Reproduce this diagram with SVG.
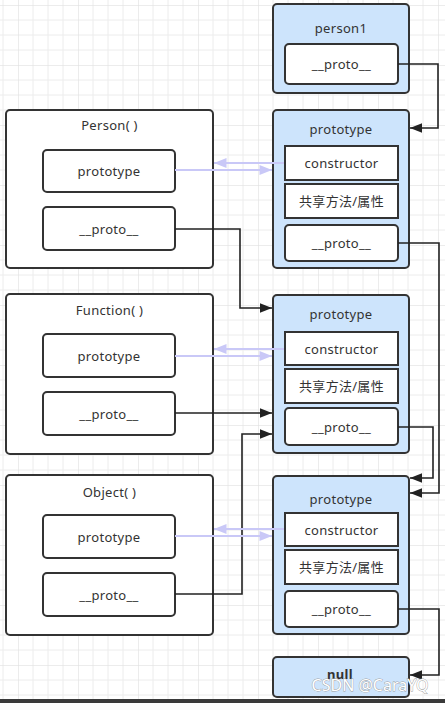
<svg xmlns="http://www.w3.org/2000/svg" width="445" height="703" viewBox="0 0 445 703">
<style>
text{font-family:"Noto Sans","Noto Sans CJK SC",sans-serif;font-size:13px;fill:#333;text-anchor:middle;dominant-baseline:central;letter-spacing:0.3px}
.outer{fill:#fff;stroke:#333;stroke-width:2}
.blue{fill:#cde4fc;stroke:#333;stroke-width:2}
.inner{fill:#fff;stroke:#333;stroke-width:2}
.conn{fill:none;stroke:#222;stroke-width:1.6}
.lav{fill:none;stroke:#c9c8f7;stroke-width:2}
</style>
<defs>
<pattern id="grid" x="18" y="5" width="60" height="60" patternUnits="userSpaceOnUse">
<path d="M0,0 V60 M15,0 V60 M30,0 V60 M45,0 V60 M0,0 H60 M0,15 H60 M0,30 H60 M0,45 H60" fill="none" stroke="#ececec" stroke-width="1"/>
<path d="M0,0 V60 M0,0 H60" fill="none" stroke="#e2e2e2" stroke-width="1"/>
</pattern>
<marker id="ab" viewBox="0 0 10 8" refX="10" refY="4" markerWidth="12" markerHeight="10" orient="auto" markerUnits="userSpaceOnUse"><path d="M0,0 L10,4 L0,8 z" fill="#222"/></marker>
<marker id="al" viewBox="0 0 10 8" refX="10" refY="4" markerWidth="13" markerHeight="10" orient="auto" markerUnits="userSpaceOnUse"><path d="M0,0 L10,4 L0,8 z" fill="#c9c8f7"/></marker>
</defs>
<rect width="445" height="703" fill="#fff"/>
<rect width="445" height="703" fill="url(#grid)"/>

<g id="person-ctor">
<rect class="outer" x="6" y="110" width="207" height="158" rx="4"/>
<text x="109.5" y="125">Person( )</text>
<rect class="inner" x="43" y="150" width="132" height="42" rx="4"/>
<text x="109" y="171">prototype</text>
<rect class="inner" x="43" y="207" width="132" height="43" rx="4"/>
<text x="109" y="228.5">__proto__</text>
</g>
<g id="function-ctor">
<rect class="outer" x="6" y="294" width="207" height="160" rx="4"/>
<text x="109.5" y="310">Function( )</text>
<rect class="inner" x="43" y="334" width="132" height="43" rx="4"/>
<text x="109" y="355.5">prototype</text>
<rect class="inner" x="43" y="392" width="132" height="43" rx="4"/>
<text x="109" y="413.5">__proto__</text>
</g>
<g id="object-ctor">
<rect class="outer" x="6" y="475" width="207" height="160" rx="4"/>
<text x="109.5" y="492">Object( )</text>
<rect class="inner" x="43" y="515" width="132" height="43" rx="4"/>
<text x="109" y="536.5">prototype</text>
<rect class="inner" x="43" y="573" width="132" height="43" rx="4"/>
<text x="109" y="594.5">__proto__</text>
</g>

<g id="person1">
<rect class="blue" x="273" y="4" width="136" height="89" rx="4"/>
<text x="341" y="27.5">person1</text>
<rect class="inner" x="285" y="44" width="113" height="40" rx="4"/>
<text x="341.5" y="64">__proto__</text>
</g>
<g id="person-prototype">
<rect class="blue" x="273" y="110" width="136" height="158" rx="4"/>
<text x="341" y="128.5">prototype</text>
<rect class="inner" x="285" y="146" width="113" height="34"/>
<text x="341.5" y="163">constructor</text>
<rect class="inner" x="285" y="184" width="113" height="34"/>
<text x="341.5" y="201">共享方法/属性</text>
<rect class="inner" x="285" y="225" width="113" height="36" rx="4"/>
<text x="341.5" y="243">__proto__</text>
</g>
<g id="function-prototype">
<rect class="blue" x="273" y="295" width="136" height="158" rx="4"/>
<text x="341" y="313.5">prototype</text>
<rect class="inner" x="285" y="332" width="113" height="33"/>
<text x="341.5" y="348.5">constructor</text>
<rect class="inner" x="285" y="369" width="113" height="34"/>
<text x="341.5" y="386">共享方法/属性</text>
<rect class="inner" x="285" y="408" width="113" height="37" rx="4"/>
<text x="341.5" y="426.5">__proto__</text>
</g>
<g id="object-prototype">
<rect class="blue" x="273" y="476" width="136" height="158" rx="4"/>
<text x="341" y="498.5">prototype</text>
<rect class="inner" x="285" y="513" width="113" height="33"/>
<text x="341.5" y="529.5">constructor</text>
<rect class="inner" x="285" y="550" width="113" height="34"/>
<text x="341.5" y="567">共享方法/属性</text>
<rect class="inner" x="285" y="591" width="113" height="36" rx="4"/>
<text x="341.5" y="609">__proto__</text>
</g>
<g id="null">
<rect class="blue" x="273" y="657" width="136" height="40" rx="4"/>
<text x="340" y="674" style="font-weight:bold">null</text>
</g>

<g id="connectors">
<path class="conn" d="M398,64 H438 V128 H410" marker-end="url(#ab)"/>
<path class="conn" d="M175,229 H240 V308 H272" marker-end="url(#ab)"/>
<path class="conn" d="M398,243 H439 V493 H410" marker-end="url(#ab)"/>
<path class="conn" d="M398,427 H433 V478 H410" marker-end="url(#ab)"/>
<path class="conn" d="M175,413 H272" marker-end="url(#ab)"/>
<path class="conn" d="M175,594 H242 V434 H272" marker-end="url(#ab)"/>
<path class="conn" d="M398,609 H439 V675 H410" marker-end="url(#ab)"/>
<path class="lav" d="M175,170 H272" marker-end="url(#al)"/>
<path class="lav" d="M284,163 H214" marker-end="url(#al)"/>
<path class="lav" d="M175,356 H272" marker-end="url(#al)"/>
<path class="lav" d="M284,349 H214" marker-end="url(#al)"/>
<path class="lav" d="M175,536 H272" marker-end="url(#al)"/>
<path class="lav" d="M284,529 H214" marker-end="url(#al)"/>
</g>

<text x="370" y="685" style="font-size:16px;letter-spacing:0;fill:#fff;stroke:#9a9a9a;stroke-width:0.8;paint-order:stroke">CSDN @CaraYQ</text>
<rect x="0" y="699" width="445" height="4" fill="#3a3a3a"/>
</svg>
